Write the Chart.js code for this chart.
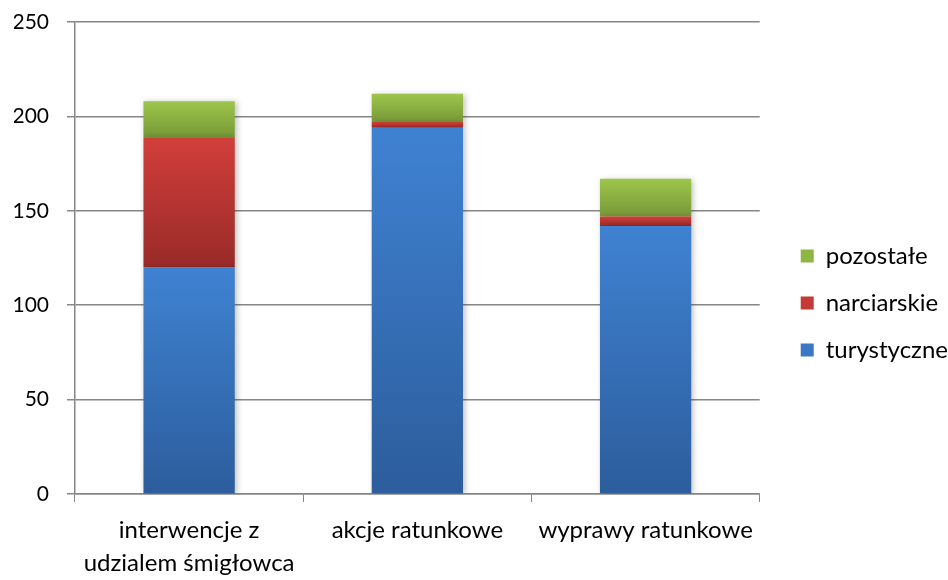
<!DOCTYPE html>
<html>
<head>
<meta charset="utf-8">
<script src="https://cdn.jsdelivr.net/npm/chart.js@4/dist/chart.umd.min.js"></script>
<style>
  html, body { margin: 0; padding: 0; background: #fff; overflow: hidden; }
  #wrap { width: 948px; height: 580px; position: relative; }
  canvas { display: block; }
</style>
</head>
<body>
<div id="wrap"><canvas id="chart"></canvas></div>
<script>
// Chart data
const categories = [['interwencje z', 'udzialem śmigłowca'], 'akcje ratunkowe', 'wyprawy ratunkowe'];
const turystyczne = [120, 194, 142];
const narciarskie = [69, 3, 5];
const pozostale = [19, 15, 20];
const yTicks = [0, 50, 100, 150, 200, 250];

const series = [turystyczne, narciarskie, pozostale];
const gradColors = [
    ['#3f82d2', '#2c5d9c'],
    ['#d23f3b', '#982a27'],
    ['#9dc64b', '#779837']
];

// vertical gradient per segment: light on top, dark at bottom
function segmentFill(dsIndex) {
    return function (context) {
        const chart = context.chart;
        const c = gradColors[dsIndex];
        if (!chart.chartArea || context.dataIndex === undefined) return c[0];
        const i = context.dataIndex;
        let base = 0;
        for (let k = 0; k < dsIndex; k++) base += series[k][i];
        const top = base + series[dsIndex][i];
        const y = chart.scales.y;
        const y0 = y.getPixelForValue(top);
        const y1 = y.getPixelForValue(base);
        if (!isFinite(y0) || !isFinite(y1) || y0 === y1) return c[0];
        const g = chart.ctx.createLinearGradient(0, y0, 0, y1);
        g.addColorStop(0, c[0]);
        g.addColorStop(1, c[1]);
        return g;
    };
}

const shadowPlugin = {
    id: 'barShadow',
    beforeDatasetsDraw(chart) {
        const ctx = chart.ctx;
        ctx.save();
        ctx.shadowColor = 'rgba(0,0,0,0.25)';
        ctx.shadowBlur = 6;
        ctx.shadowOffsetX = 2;
        ctx.shadowOffsetY = 1;
    },
    afterDatasetsDraw(chart) {
        chart.ctx.restore();
    }
};

// push legend items a bit away from the plot
const legendShift = {
    id: 'legendShift',
    afterLayout(chart) {
        if (chart.legend) {
            chart.legend.left += 18;
            chart.legend.right += 18;
        }
    }
};

const FONT = 'Lato, "Open Sans", sans-serif';

new Chart(document.getElementById('chart'), {
    type: 'bar',
    data: {
        labels: categories,
        datasets: [
            { label: 'turystyczne', data: turystyczne, backgroundColor: segmentFill(0), legendColor: '#3a78c4' },
            { label: 'narciarskie', data: narciarskie, backgroundColor: segmentFill(1), legendColor: '#c43a36' },
            { label: 'pozostałe', data: pozostale, backgroundColor: segmentFill(2), legendColor: '#8fb644' }
        ]
    },
    plugins: [shadowPlugin, legendShift],
    options: {
        responsive: true,
        maintainAspectRatio: false,
        animation: false,
        datasets: { bar: { barPercentage: 0.4, categoryPercentage: 1 } },
        layout: { padding: { left: 14, right: 8, top: 2, bottom: 0 } },
        plugins: {
            tooltip: { enabled: false },
            legend: {
                position: 'right',
                reverse: true,
                title: { display: true, text: ' ', font: { size: 10 }, padding: { top: 0, bottom: 12 } },
                labels: {
                    font: { family: FONT, size: 24 },
                    color: '#000',
                    boxWidth: 13,
                    boxHeight: 13,
                    padding: 23,
                    generateLabels(chart) {
                        return chart.data.datasets.map((ds, i) => ({
                            text: ds.label,
                            fillStyle: ds.legendColor,
                            strokeStyle: ds.legendColor,
                            fontColor: '#000',
                            lineWidth: 0,
                            datasetIndex: i,
                            hidden: false
                        }));
                    }
                }
            }
        },
        scales: {
            x: {
                stacked: true,
                afterFit(scale) { scale.height = 86; },
                grid: { display: true, drawOnChartArea: false, color: '#868686', tickLength: 8, offset: true },
                border: { color: '#868686', width: 1.5 },
                ticks: { font: { family: FONT, size: 24, lineHeight: 1.4 }, color: '#000', padding: 11, maxRotation: 0 }
            },
            y: {
                stacked: true,
                min: 0,
                max: 250,
                afterBuildTicks(scale) { scale.ticks = yTicks.map(v => ({ value: v })); },
                afterFit(scale) {
                    scale.width = 61;
                    scale.paddingTop = 22;
                    scale.paddingBottom = 0;
                },
                grid: { color: '#868686', lineWidth: 1.5, tickLength: 8 },
                border: { color: '#868686', width: 1.5 },
                ticks: { font: { family: FONT, size: 21 }, color: '#000', padding: 18 }
            }
        }
    }
});
</script>
</body>
</html>
